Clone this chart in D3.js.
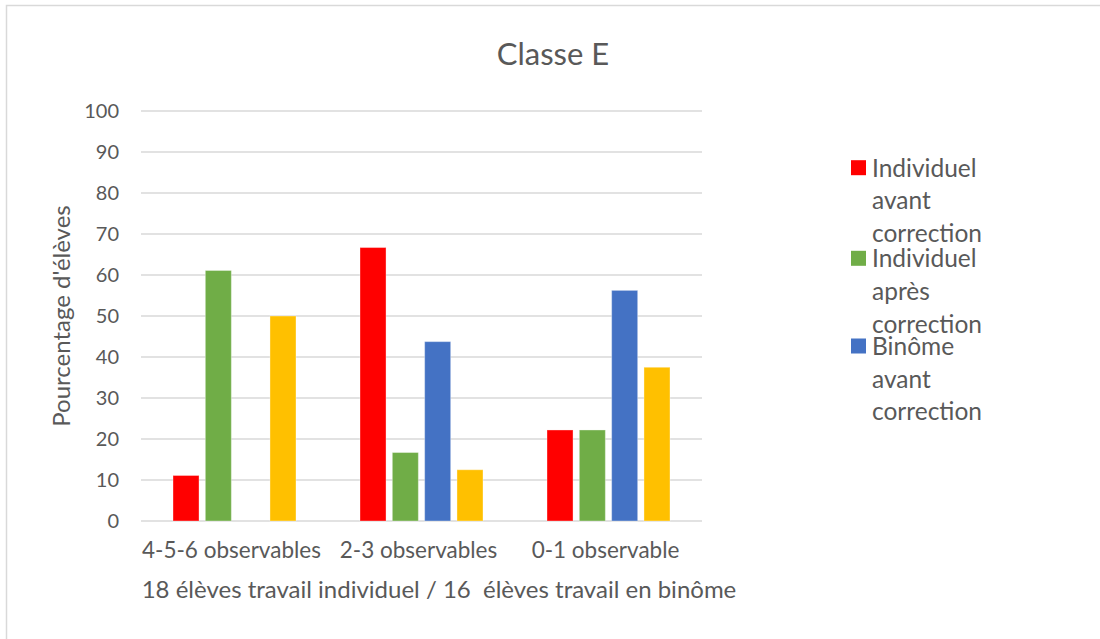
<!DOCTYPE html>
<html><head><meta charset="utf-8">
<script src="https://cdn.jsdelivr.net/npm/d3@7"></script>
<style>
html,body{margin:0;padding:0;background:#fff;}
svg{display:block;font-family:Lato,"Open Sans",sans-serif;}
</style></head>
<body>
<svg id="c" width="1100" height="639"></svg>
<script>
const categories = ["4-5-6 observables", "2-3 observables", "0-1 observable"];
const seriesNames = ["Individuel avant correction", "Individuel après correction", "Binôme avant correction", "Binôme après correction"];
const legendLines = [["Individuel","avant","correction"],["Individuel","après","correction"],["Binôme","avant","correction"]];
const indivAvant = [11.1, 66.7, 22.2];
const indivApres = [61.1, 16.7, 22.2];
const binomeAvant = [0, 43.75, 56.25];
const binomeApres = [50, 12.5, 37.5];
const colors = ["#FF0000", "#70AD47", "#4472C4", "#FFC000"];
const yTicks = [0,10,20,30,40,50,60,70,80,90,100];
const title = "Classe E";
const yTitle = "Pourcentage d'élèves";
const xTitle = "18 élèves travail individuel / 16  élèves travail en binôme";

const values = [indivAvant, indivApres, binomeAvant, binomeApres];
const svg = d3.select("#c");
const textCol = "#595959";

// chart border
svg.append("path").attr("d","M6.5,639 V5.5 H1100").attr("fill","none").attr("stroke","#d9d9d9").attr("stroke-width",1.5);

const x0 = d3.scaleBand().domain(categories).range([141,702]);
const x1 = d3.scaleBand().domain(seriesNames).range([32,155]).paddingInner(0.195);
const y = d3.scaleLinear().domain([0,100]).range([521,111]);

// gridlines
svg.append("g").selectAll("line").data(yTicks).join("line")
  .attr("x1",141).attr("x2",702).attr("y1",d=>y(d)).attr("y2",d=>y(d))
  .attr("stroke","#d9d9d9").attr("stroke-width",1.3);

// y tick labels
svg.append("g").selectAll("text").data(yTicks).join("text")
  .attr("x",119).attr("y",d=>y(d)).attr("dy","0.36em").attr("text-anchor","end")
  .attr("fill",textCol).style("font-size","20px").text(d=>d);

// bars
const g = svg.append("g");
seriesNames.forEach((s,si)=>{
  g.append("g").selectAll("rect").data(categories.map((c,ci)=>({c,v:values[si][ci]}))).join("rect")
    .filter(d=>d.v>0)
    .attr("x",d=>x0(d.c)+x1(s)).attr("width",x1.bandwidth())
    .attr("y",d=>y(d.v)).attr("height",d=>y(0)-y(d.v))
    .attr("fill",colors[si]).attr("stroke","#fff").attr("stroke-opacity",0.35).attr("stroke-width",1);
});

// category labels
svg.append("g").selectAll("text").data(categories).join("text")
  .attr("x",d=>x0(d)+x0.bandwidth()/2-3).attr("y",558).attr("text-anchor","middle")
  .attr("fill",textCol).style("font-size","22.5px").text(d=>d);

// x title
svg.append("text").attr("x",439).attr("y",598).attr("text-anchor","middle")
  .attr("fill",textCol).style("font-size","24px").style("white-space","pre").attr("xml:space","preserve").text(xTitle);

// y title
svg.append("text").attr("transform","translate(70,316) rotate(-90)").attr("text-anchor","middle")
  .attr("fill",textCol).style("font-size","24px").text(yTitle);

// title
svg.append("text").attr("x",553).attr("y",65).attr("text-anchor","middle")
  .attr("fill",textCol).style("font-size","31px").text(title);

// legend
const legTop = [176.7, 267.3, 355];
legendLines.forEach((lines,i)=>{
  const lg = svg.append("g");
  lg.append("rect").attr("x",851).attr("y",legTop[i]-16.5).attr("width",15).attr("height",15).attr("fill",colors[i]);
  lines.forEach((ln,j)=>{
    lg.append("text").attr("x",872).attr("y",legTop[i]+j*32.7).attr("fill",textCol).style("font-size","24.5px").text(ln);
  });
});
</script>
</body></html>
